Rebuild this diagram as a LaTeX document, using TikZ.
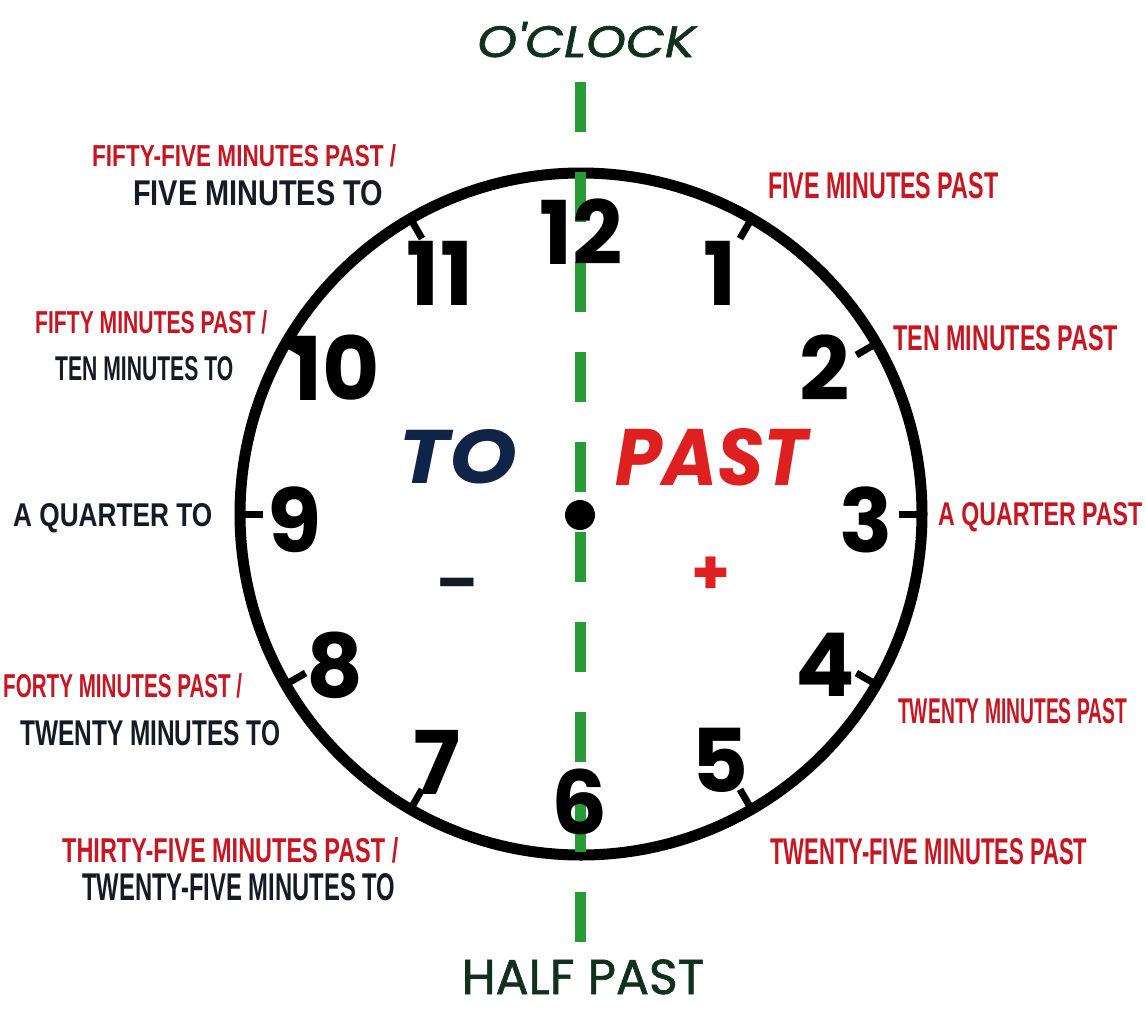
\documentclass[tikz,border=0pt]{standalone}
\usepackage{fontspec}
\usepackage{graphicx}
\usetikzlibrary{calc}
\setmainfont{Poppins}
\newfontfamily\medfont[FakeBold=1.2]{Poppins}
\newfontfamily\lblfont{Liberation Sans}
\definecolor{lred}{RGB}{198,22,34}
\definecolor{lblack}{RGB}{22,26,36}
\definecolor{dgreen}{RGB}{18,48,30}
\definecolor{gdash}{RGB}{40,155,55}
\definecolor{tonavy}{RGB}{16,36,72}
\definecolor{pastred}{RGB}{222,32,32}
\newcommand{\fitw}[3]{\resizebox{#1pt}{#2pt}{#3}}
\tikzset{
  lbl/.style={inner sep=0pt, anchor=base west, font=\lblfont\bfseries},
  redlbl/.style={lbl, text=lred},
  blklbl/.style={lbl, text=lblack},
  big/.style={inner sep=0pt, anchor=base west},
  num/.style={inner sep=0pt, font=\fontsize{88}{88}\selectfont\bfseries, text=black},
  ticksty/.style={line width=7pt, black},
  dashsty/.style={gdash, line width=11pt, dash pattern=on 50pt off 40pt}
}
\begin{document}
\begin{tikzpicture}[x=1pt,y=-1pt]
\useasboundingbox (0,0) rectangle (1146,1012);
\fill[white] (0,0) rectangle (1146,1012);
\coordinate (c) at (581,514);
% clock face
\draw[line width=11pt] (c) circle[radius=341pt];
\foreach \h in {1,2,3,4,5,7,8,9,10,11}{
  \draw[ticksty] ($(c)+({-90+30*\h}:341)$) -- ($(c)+({-90+30*\h}:318)$);
}
% green dashed axis
\coordinate (dtop) at (580,82);
\coordinate (dbot) at (580,942);
\draw[dashsty] (dtop) -- (dbot);
% numbers
\node[num] (n12) at (581,232) {12};
\node[num] (n1) at (720,273) {1};
\node[num] (n2) at (825,368) {2};
\node[num] (n3) at (866,520) {3};
\node[num] (n4) at (825,665) {4};
\node[num] (n5) at (720,760) {5};
\node[num] (n6) at (580,802) {6};
\node[num] (n7) at (437,762) {7};
\node[num] (n8) at (335,665) {8};
\node[num] (n9) at (295,520) {9};
\node[num] (n10) at (335,368) {10};
\node[num] (n11) at (440,273) {11};
% centre dot
\node[circle, fill=black, minimum size=30pt, inner sep=0pt] (dot) at (580,515) {};
% big words
\node[big, text=dgreen] (oclock) at (477,57) {\fitw{218}{35}{\medfont\itshape O'CLOCK}};
\node[inner sep=0pt, anchor=base, text=dgreen, font=\medfont\fontsize{49}{49}\selectfont] (halfpast) at (583,994) {HALF PAST};
\node[big, text=tonavy] (to) at (398,483) {\fitw{119}{54}{\bfseries\itshape TO}};
\node[big, text=pastred] (past) at (615,485) {\fitw{193}{57}{\bfseries\itshape PAST}};
\node[inner sep=0pt, text=lblack, font=\fontsize{60}{60}\selectfont\bfseries] (minus) at (457,591) {--};
\node[inner sep=0pt, text=pastred, font=\fontsize{62}{62}\selectfont\bfseries] (plus) at (711,576) {+};
% labels
\node[redlbl] (l55a) at (92,166) {\fitw{304}{22}{FIFTY-FIVE MINUTES PAST /}};
\node[blklbl] (l55b) at (133,205) {\fitw{250}{25}{FIVE MINUTES TO}};
\node[redlbl] (l5) at (768,198) {\fitw{230}{26}{FIVE MINUTES PAST}};
\node[redlbl] (l10) at (893,350) {\fitw{225}{25}{TEN MINUTES PAST}};
\node[redlbl] (l50a) at (35,333) {\fitw{232}{23}{FIFTY MINUTES PAST /}};
\node[blklbl] (l50b) at (55,380) {\fitw{178}{24}{TEN MINUTES TO}};
\node[blklbl] (l45) at (13,526) {\fitw{199}{23}{A QUARTER TO}};
\node[redlbl] (l15) at (938,525) {\fitw{204}{23}{A QUARTER PAST}};
\node[redlbl] (l40a) at (3,697) {\fitw{239}{24}{FORTY MINUTES PAST /}};
\node[blklbl] (l40b) at (20,745) {\fitw{260}{25}{TWENTY MINUTES TO}};
\node[redlbl] (l20) at (898,723) {\fitw{229}{25}{TWENTY MINUTES PAST}};
\node[redlbl] (l25) at (770,864) {\fitw{317}{26}{TWENTY-FIVE MINUTES PAST}};
\node[redlbl] (l35a) at (62,862) {\fitw{336}{25}{THIRTY-FIVE MINUTES PAST /}};
\node[blklbl] (l35b) at (82,900) {\fitw{313}{27}{TWENTY-FIVE MINUTES TO}};
\end{tikzpicture}
\end{document}
